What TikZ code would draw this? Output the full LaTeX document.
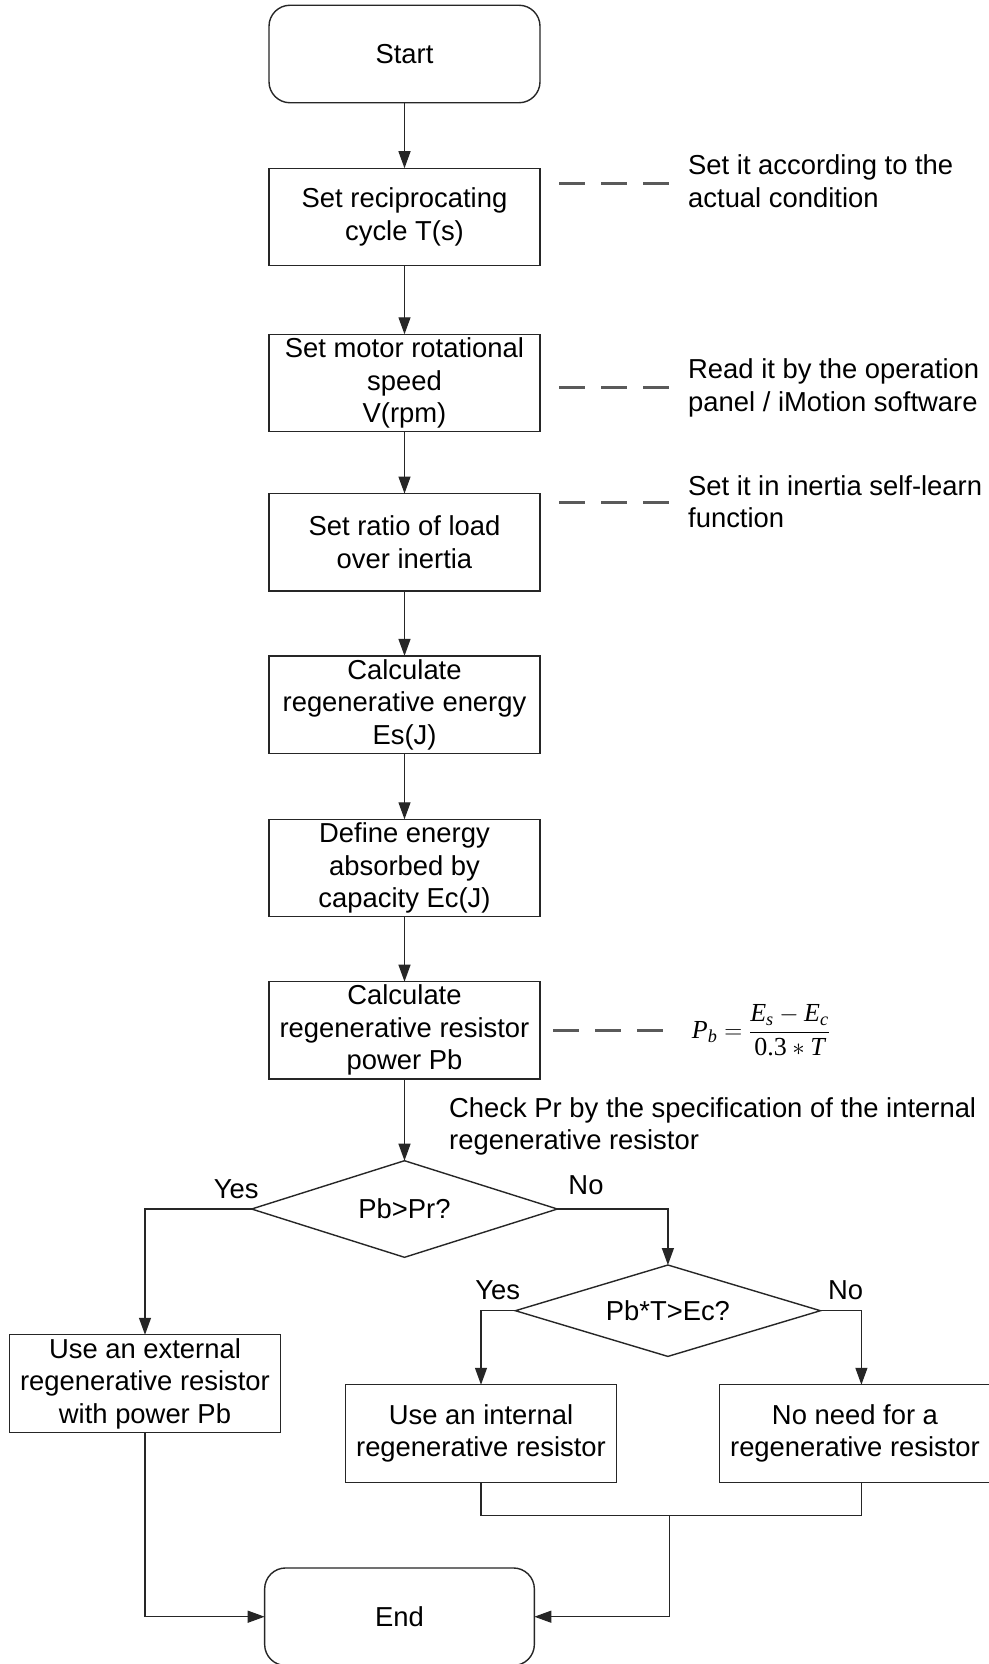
\documentclass[tikz,border=0pt]{standalone}
\usepackage{amsmath}
\usepackage{fontspec}
\setmainfont{Liberation Sans}
\newfontfamily\fmfont{Liberation Serif}
\usetikzlibrary{shapes.geometric,arrows.meta,calc}
\definecolor{linec}{HTML}{262626}
\definecolor{dashc}{HTML}{5A5A5A}
\newcommand{\fmi}[1]{\text{\fmfont\itshape #1}}
\newcommand{\fmr}[1]{\text{\fmfont #1}}
\begin{document}
\begin{tikzpicture}[x=1pt,y=-1pt,
  every node/.style={font=\fontsize{27.4}{32.5}\selectfont},
  box/.style={draw=linec,line width=1.4pt,minimum width=271pt,minimum height=97.5pt,align=center,inner sep=0pt,outer sep=0pt},
  term/.style={box,rounded corners=21pt},
  dia/.style={draw=linec,line width=1.4pt,shape=diamond,aspect=3.3,inner sep=0pt,outer sep=0pt},
  arr/.style={draw=linec,line width=1.3pt,-{Triangle[length=17pt,width=12pt]}},
  ln/.style={draw=linec,line width=1.3pt},
  dashline/.style={draw=dashc,line width=3pt,dash pattern=on 26pt off 16pt},
  note/.style={align=left,anchor=west,inner sep=0pt},
  lbl/.style={inner sep=0pt}]
\useasboundingbox[fill=white] (0,0) rectangle (988,1664);

% main column
\node[term] (start) at (404.5,54) {Start};
\node[box] (b1) at (404.5,217) {Set reciprocating\\cycle T(s)};
\node[box] (b2) at (404.5,383) {Set motor rotational\\speed\\V(rpm)};
\node[box] (b3) at (404.5,542.3) {Set ratio of load\\over inertia};
\node[box] (b4) at (404.5,704.6) {Calculate\\regenerative energy\\Es(J)};
\node[box] (b5) at (404.5,868) {Define energy\\absorbed by\\capacity Ec(J)};
\node[box] (b6) at (404.5,1030.4) {Calculate\\regenerative resistor\\power Pb};
\node[dia,minimum width=305.7pt,minimum height=96.6pt] (d1) at (404.5,1209) {Pb>Pr?};
\node[dia,minimum width=305pt,minimum height=91.4pt] (d2) at (667.9,1310.7) {Pb*T>Ec?};
\node[box] (b7) at (145,1383.5) {Use an external\\regenerative resistor\\with power Pb};
\node[box] (b8) at (481,1433.5) {Use an internal\\regenerative resistor};
\node[box] (b9) at (855,1433.5) {No need for a\\regenerative resistor};
\node[term,minimum width=269.7pt] (end) at (399.5,1616.7) {End};

% notes
\node[note] (nt1) at (688,181) {Set it according to the\\actual condition};
\node[note] (nt2) at (688,388) {Read it by the operation\\panel / iMotion software};
\node[note] (nt3) at (688,501.5) {Set it in inertia self-learn\\function};
\node[note] (chk) at (449,1126.5) {Check Pr by the specification of the internal\\regenerative resistor};
\node[inner sep=0pt,anchor=west,font=\fontsize{26}{30}\selectfont] (fm) at (691.7,1030.5) {$\fmi{P}_{\fmi{b}}=\dfrac{\fmi{E}_{\fmi{s}}-\fmi{E}_{\fmi{c}}}{\fmr{0.3}*\fmi{T}}$};

% branch labels
\node[lbl] (y1) at (236.3,1189.3) {Yes};
\node[lbl] (n1) at (586,1185) {No};
\node[lbl] (y2) at (497.8,1290) {Yes};
\node[lbl] (n2) at (845.6,1290) {No};

% dashed leaders
\coordinate (dA1) at (559.4,183.3); \coordinate (dA2) at (669.4,183.3);
\coordinate (dB1) at (559.4,387.7); \coordinate (dB2) at (669.4,387.7);
\coordinate (dC1) at (559.4,502);   \coordinate (dC2) at (669.4,502);
\coordinate (dD1) at (553,1030.5);  \coordinate (dD2) at (663.3,1030.5);
\draw[dashline] (dA1) -- (dA2);
\draw[dashline] (dB1) -- (dB2);
\draw[dashline] (dC1) -- (dC2);
\draw[dashline] (dD1) -- (dD2);

% connectors
\draw[arr] (start.south) -- (b1.north);
\draw[arr] (b1.south) -- (b2.north);
\draw[arr] (b2.south) -- (b3.north);
\draw[arr] (b3.south) -- (b4.north);
\draw[arr] (b4.south) -- (b5.north);
\draw[arr] (b5.south) -- (b6.north);
\draw[arr] (b6.south) -- (d1.north);
\draw[arr] (d1.west) -| (b7.north);
\draw[arr] (d1.east) -| (d2.north);
\draw[arr] (d2.west) -| (b8.north);
\draw[arr] (d2.east) -| ([xshift=6.4pt]b9.north);
\coordinate (jn) at (669.8,1515.7);
\draw[ln] (b8.south) |- (jn) -| ([xshift=6.4pt]b9.south);
\draw[arr] (jn) |- (end.east);
\draw[arr] (b7.south) |- (end.west);
\end{tikzpicture}
\end{document}
